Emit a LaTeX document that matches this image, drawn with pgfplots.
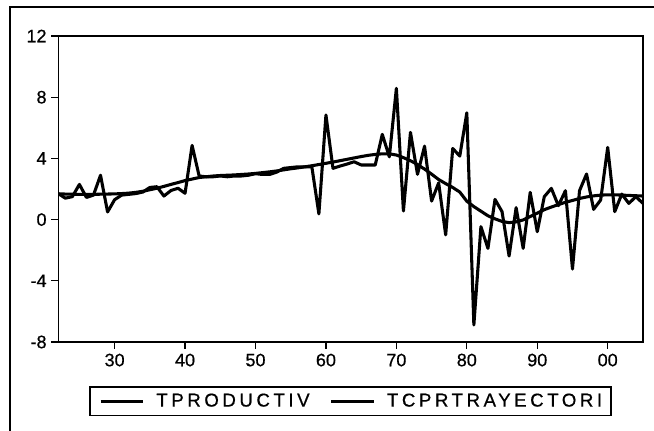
\documentclass[border=0pt]{standalone}
\usepackage{fontspec}
\setmainfont{Liberation Sans}[FakeBold=0.6]
\usepackage{pgfplots}
\pgfplotsset{compat=1.18}
\usetikzlibrary{calc}

% growth rate and its HP-style trend, 1922-2005
\pgfplotstableread{
year tprod trend
1922 1.70 1.68
1923 1.40 1.67
1924 1.50 1.66
1925 2.30 1.65
1926 1.45 1.65
1927 1.60 1.65
1928 2.90 1.66
1929 0.50 1.67
1930 1.30 1.68
1931 1.60 1.70
1932 1.65 1.73
1933 1.70 1.78
1934 1.80 1.85
1935 2.10 1.95
1936 2.15 2.05
1937 1.54 2.17
1938 1.90 2.30
1939 2.05 2.42
1940 1.72 2.55
1941 4.85 2.65
1942 2.85 2.75
1943 2.80 2.80
1944 2.80 2.85
1945 2.85 2.88
1946 2.80 2.90
1947 2.85 2.92
1948 2.85 2.95
1949 2.90 2.98
1950 3.00 3.02
1951 2.95 3.07
1952 2.95 3.12
1953 3.10 3.18
1954 3.35 3.25
1955 3.40 3.32
1956 3.45 3.38
1957 3.45 3.45
1958 3.45 3.52
1959 0.37 3.60
1960 6.84 3.68
1961 3.35 3.76
1962 3.50 3.85
1963 3.63 3.94
1964 3.78 4.03
1965 3.57 4.12
1966 3.57 4.20
1967 3.57 4.26
1968 5.57 4.30
1969 4.10 4.30
1970 8.58 4.22
1971 0.56 4.05
1972 5.70 3.85
1973 2.96 3.60
1974 4.80 3.30
1975 1.21 2.97
1976 2.40 2.62
1977 -1.00 2.35
1978 4.65 2.10
1979 4.15 1.80
1980 6.98 1.20
1981 -6.89 0.85
1982 -0.46 0.55
1983 -1.88 0.25
1984 1.32 0.05
1985 0.52 -0.12
1986 -2.38 -0.20
1987 0.78 -0.15
1988 -1.88 -0.02
1989 1.78 0.20
1990 -0.79 0.42
1991 1.50 0.65
1992 2.04 0.82
1993 0.91 0.98
1994 1.89 1.13
1995 -3.23 1.25
1996 1.89 1.38
1997 2.98 1.48
1998 0.67 1.55
1999 1.28 1.60
2000 4.72 1.62
2001 0.52 1.62
2002 1.67 1.60
2003 1.06 1.58
2004 1.50 1.56
2005 1.06 1.54
}\datatab

\begin{document}
\begin{tikzpicture}
\begin{axis}[
  name=ax,
  scale only axis,
  width=438.5pt,
  height=229.5pt,
  xmin=1922, xmax=2005,
  ymin=-8, ymax=12,
  xtick={1930,1940,1950,1960,1970,1980,1990,2000},
  xticklabels={30,40,50,60,70,80,90,00},
  ytick={-8,-4,0,4,8,12},
  tick align=outside,
  xtick pos=bottom,
  ytick pos=left,
  major tick length=5.25pt,
  axis line style={line width=1.1pt},
  every tick/.style={black, line width=1pt},
  tick label style={font=\fontsize{13.5}{15}\selectfont},
  /pgf/number format/assume math mode=true,
  legend style={
    at={(0.5,-0.193)}, anchor=center,
    legend columns=2,
    draw=black, line width=1pt,
    inner xsep=6.75pt, inner ysep=3pt,
    font=\fontsize{14}{16}\selectfont\addfontfeature{LetterSpace=19},
    nodes={inner xsep=0pt, inner ysep=2pt},
    /tikz/every odd column/.append style={column sep=8.8pt},
    /tikz/every even column/.append style={column sep=15pt},
  },
  legend image code/.code={\draw[line width=2.2pt] (0pt,0pt) -- (32pt,0pt);},
]
\addplot[black, line width=2.3pt, line join=round] table[x=year, y=tprod] {\datatab};
\addlegendentry{TPRODUCTIV}
\addplot[black, line width=2.3pt, line join=round] table[x=year, y=trend] {\datatab};
\addlegendentry{TCPRTRAYECTORI}
\end{axis}
\pgfresetboundingbox
\path[use as bounding box] ($(ax.south west)+(-43.7pt,-66.75pt)$) rectangle ++(490.5pt,323.25pt);
\draw[line width=1.1pt] ($(ax.south west)+(-36.2pt,-90pt)$) |- ($(ax.south west)+(470pt,251.25pt)$);
\end{tikzpicture}
\end{document}
